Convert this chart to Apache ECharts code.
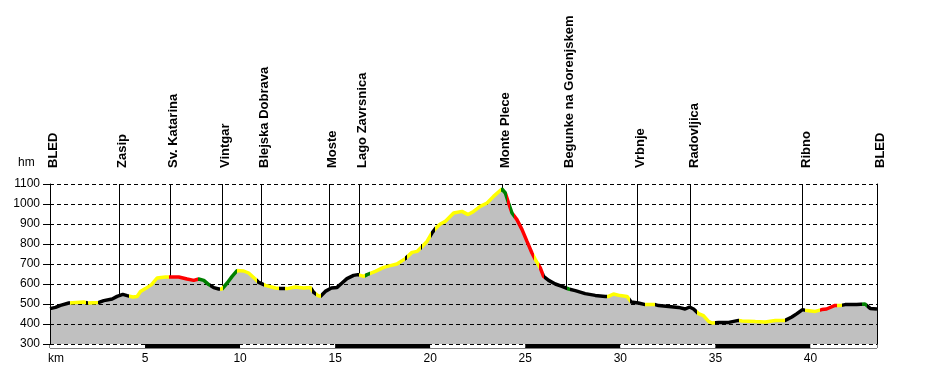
<!DOCTYPE html>
<html><head><meta charset="utf-8">
<script src="https://cdn.jsdelivr.net/npm/echarts@6/dist/echarts.min.js"></script>
<style>html,body{margin:0;padding:0;background:#fff}#c{width:927px;height:370px}</style>
</head><body><div id="c"></div>
<script>
// elevation profile (km, metres)
const profileKm = [0.00,0.29,0.55,0.99,1.78,1.95,2.57,2.83,3.27,3.53,3.83,4.06,4.36,4.58,4.76,5.02,5.34,5.63,6.07,6.30,6.77,7.21,7.56,7.82,8.09,8.35,8.61,8.88,9.05,9.32,9.58,9.84,10.19,10.45,10.80,10.98,11.33,11.86,12.12,12.47,12.91,13.34,13.70,13.87,14.10,14.22,14.48,14.80,15.10,15.36,15.62,15.97,16.20,16.50,16.68,17.11,17.55,17.90,18.25,18.69,19.04,19.31,19.57,19.83,20.09,20.27,20.53,20.79,21.23,21.67,21.99,22.28,22.63,22.99,23.33,23.77,23.95,24.12,24.30,24.56,24.83,25.09,25.35,25.53,25.79,25.96,26.23,26.58,26.93,27.28,27.63,28.15,28.68,29.21,29.38,29.64,29.99,30.35,30.57,30.95,31.31,31.83,32.01,32.54,33.06,33.41,33.64,33.85,34.11,34.37,34.64,34.82,35.17,35.70,36.22,36.40,37.10,37.62,38.15,38.67,39.02,39.29,39.58,39.81,40.25,40.60,40.85,41.29,41.56,41.82,42.43,42.87,43.14,43.50];
const profileElev = [477,483,493,505,510,505,508,517,525,538,548,542,535,538,562,577,597,630,635,635,635,625,618,625,618,597,582,575,575,605,638,667,665,655,625,608,593,580,577,577,585,580,582,558,542,538,563,580,583,605,627,643,647,638,647,663,683,692,700,727,758,763,788,813,855,877,900,913,955,963,947,963,988,1005,1038,1075,1055,1005,955,922,872,813,755,722,680,638,618,600,588,575,567,552,543,538,538,550,542,538,510,505,497,497,492,488,483,475,485,475,452,442,413,405,408,408,418,415,412,410,418,418,435,452,472,467,463,472,475,493,492,497,497,500,478,475];

// gradient classes along the route: k=black, y=yellow, r=red, g=green
const segStart = [0,1.05,1.9,2.0,2.5,4.15,6.25,7.8,8.44,8.96,9.12,9.85,10.89,11.24,12.03,12.38,13.79,14.0,14.25,16.24,16.59,16.85,18.69,18.79,19.52,19.59,20.02,20.27,23.74,24.04,24.18,24.42,25.44,25.7,25.96,27.2,27.35,29.29,30.52,31.31,31.83,34.03,35.0,36.25,38.67,39.73,40.51,41.38,41.65,42.7,42.96];
const segEnd   = [1.05,1.9,2.0,2.5,4.15,6.25,7.8,8.44,8.96,9.12,9.85,10.89,11.24,12.03,12.38,13.79,14.0,14.25,16.24,16.59,16.85,18.69,18.79,19.52,19.59,20.02,20.27,23.74,24.04,24.18,24.42,25.44,25.7,25.96,27.2,27.35,29.29,30.52,31.31,31.83,34.03,35.0,36.25,38.67,39.73,40.51,41.38,41.65,42.7,42.96,43.6];
const segType  = ['k','y','k','y','k','y','r','g','k','y','g','y','k','y','k','y','k','y','k','y','g','y','k','y','k','y','k','y','g','r','g','r','y','r','k','g','k','y','k','y','k','y','k','y','k','y','r','y','k','g','k'];

// places
const placeNames = ['BLED','Zasip','Sv. Katarina','Vintgar','Blejska Dobrava','Moste','Lago Zavrsnica','Monte Plece','Begunke na Gorenjskem','Vrbnje','Radovljica','Ribno','BLED'];
const placeKm    = [0,3.62,6.30,9.03,11.12,14.66,16.24,23.77,27.14,30.87,33.69,39.58,43.5];
const placeElev  = [477,545,635,575,608,572,647,1075,580,505,483,472,475];

const yMin = 300, yMax = 1100, yStep = 100;
const xMax = 43.5, xStep = 5;

const FONT = '"Liberation Sans", Arial, sans-serif';
const colorOf = {k:'#000000', y:'#ffff00', r:'#ff0000', g:'#008000'};
const profile = profileKm.map((k,i)=>[k, profileElev[i]]);
const pieces = segStart.map((s,i)=>({gte:s, lt:segEnd[i], color: colorOf[segType[i]]}));
const places = placeKm.map((k,i)=>[k, placeElev[i]]);

const chart = echarts.init(document.getElementById('c'), null, {renderer:'canvas'});
chart.setOption({
  animation:false,
  backgroundColor:'#ffffff',
  grid:[
    {left:50,right:50,top:184,height:160},
    {left:50,right:50,top:344,height:4,show:true,borderColor:'#000',borderWidth:1,backgroundColor:'transparent'}
  ],
  xAxis:[
    {gridIndex:0,type:'value',min:0,max:xMax,show:false,splitLine:{show:false}},
    {gridIndex:1,type:'value',min:0,max:xMax,interval:xStep,
     axisLine:{show:false},axisTick:{show:false},splitLine:{show:false},
     splitArea:{show:true,areaStyle:{color:['#ffffff','#000000']}},
     axisLabel:{margin:5,color:'#000',fontFamily:FONT,fontSize:12,showMaxLabel:false,
       formatter:v=> v===0 ? '' : String(v)}}
  ],
  yAxis:[
    {gridIndex:0,type:'value',min:yMin,max:yMax,interval:yStep,z:3,
     axisLine:{show:true,lineStyle:{color:'#000',width:1}},
     axisTick:{show:true,length:7,lineStyle:{color:'#000'}},
     axisLabel:{margin:10,color:'#000',fontFamily:FONT,fontSize:12,formatter:v=>String(v)},
     splitLine:{show:true,lineStyle:{color:'#000',type:[4,3],width:1}}},
    {gridIndex:0,type:'value',min:yMin,max:yMax,position:'right',z:3,
     axisLine:{show:true,lineStyle:{color:'#000',width:1}},
     axisTick:{show:false},axisLabel:{show:false},splitLine:{show:false}},
    {gridIndex:1,type:'value',min:0,max:1,show:false}
  ],
  visualMap:{show:false,type:'piecewise',dimension:0,seriesIndex:1,pieces:pieces,outOfRange:{color:'#000'}},
  graphic:[
    {type:'text',left:18,top:157,style:{text:'hm',font:'12px "Liberation Sans", Arial',fill:'#000'}},
    {type:'text',left:48,top:353,style:{text:'km',font:'12px "Liberation Sans", Arial',fill:'#000'}}
  ],
  series:[
    {type:'line',xAxisIndex:0,yAxisIndex:0,data:profile,symbol:'none',silent:true,z:1,
     lineStyle:{width:0},areaStyle:{color:'#c0c0c0',opacity:1,origin:'start'}},
    {type:'line',xAxisIndex:0,yAxisIndex:0,data:profile,symbol:'none',silent:true,z:5,
     lineStyle:{width:3.5}},
    {type:'custom',xAxisIndex:0,yAxisIndex:0,data:places,z:4,clip:false,silent:true,
     renderItem:(params,api)=>{
       const km = api.value(0), el = api.value(1);
       const top = api.coord([km, yMax]);
       const bot = api.coord([km, el]);
       const x = Math.round(top[0]) + 0.5;
       return {type:'group',children:[
         {type:'line',shape:{x1:x,y1:top[1],x2:x,y2:bot[1]},style:{stroke:'#000',lineWidth:1}},
         {type:'text',x:top[0]+3.5,y:top[1]-16,rotation:Math.PI/2,
          style:{text:placeNames[params.dataIndex],font:'bold 13px "Liberation Sans", Arial',fill:'#000',align:'left',verticalAlign:'middle'}}
       ]};
     }}
  ]
});
</script></body></html>
